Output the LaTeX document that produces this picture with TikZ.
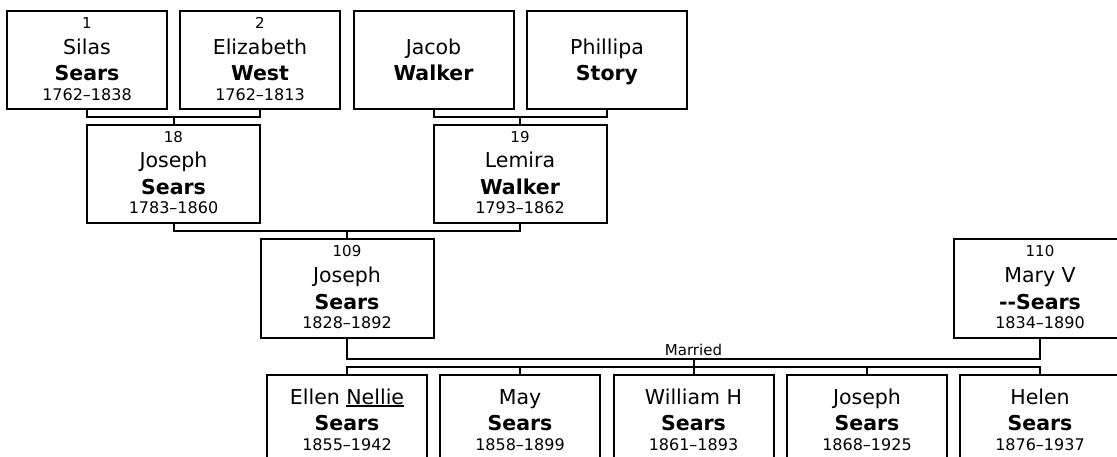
\documentclass[tikz,border=0pt]{standalone}
\usepackage{fontspec}
\setmainfont{DejaVu Sans}
\usetikzlibrary{calc}
\tikzset{
  pbox/.style={draw, line width=2pt, rectangle, inner sep=0pt, outer sep=0pt, minimum height=98pt, anchor=north},
  link/.style={draw, line width=2pt},
  numtxt/.style={anchor=base, inner sep=0pt, font=\fontsize{15}{17}\selectfont},
  nametxt/.style={anchor=base, inner sep=0pt, font=\fontsize{20.5}{24}\selectfont},
  surtxt/.style={anchor=base, inner sep=0pt, font=\fontsize{20.5}{24}\selectfont\bfseries},
  datetxt/.style={anchor=base, inner sep=0pt, font=\fontsize{16}{18}\selectfont},
  marrtxt/.style={anchor=base, inner sep=0pt, font=\fontsize{15}{17}\selectfont},
}
\newcommand\ulname[1]{\setbox0\hbox{#1}\rlap{\rule[-2.6pt]{\wd0}{1.6pt}}\box0}
% id, cx, top, width, number, first, last, dates
\newcommand\person[8]{%
  \node[pbox, minimum width=#4pt] (#1) at (#2,#3) {};
  \node[numtxt] (#1-n) at (#2,#3+17.2) {#5};
  \node[nametxt] (#1-f) at (#2,#3+43) {#6};
  \node[surtxt] (#1-l) at (#2,#3+69.5) {#7};
  \node[datetxt] (#1-d) at (#2,#3+89) {#8};
}
% id, cx, top, width, first, last
\newcommand\personb[6]{%
  \node[pbox, minimum width=#4pt] (#1) at (#2,#3) {};
  \node[nametxt] (#1-f) at (#2,#3+43) {#5};
  \node[surtxt] (#1-l) at (#2,#3+69.5) {#6};
}
% id, cx, top, first, last, dates
\newcommand\kid[6]{%
  \node[pbox, minimum width=160pt] (#1) at (#2,#3) {};
  \node[nametxt] (#1-f) at (#2,#3+29) {#4};
  \node[surtxt] (#1-l) at (#2,#3+55.5) {#5};
  \node[datetxt] (#1-d) at (#2,#3+75.5) {#6};
}
\begin{document}
\begin{tikzpicture}[x=1pt,y=-1pt]
\useasboundingbox (0,0) rectangle (1117,457);
\fill[white] (0,0) rectangle (1117,457);
\clip (0,0) rectangle (1117,457);

% generation 1
\person{p1}{87}{11.5}{160}{1}{Silas}{Sears}{1762–1838}
\person{p2}{260}{11.5}{160}{2}{Elizabeth}{West}{1762–1813}
\personb{p3}{433.5}{11.5}{160}{Jacob}{Walker}
\personb{p4}{607}{11.5}{160}{Phillipa}{Story}

% generation 2
\person{p18}{173.5}{125}{173}{18}{Joseph}{Sears}{1783–1860}
\person{p19}{520}{125}{173}{19}{Lemira}{Walker}{1793–1862}

% generation 3
\person{p109}{347}{239.5}{173}{109}{Joseph}{Sears}{1828–1892}
\person{p110}{1040}{239.5}{173}{110}{Mary V}{-\kern0pt-Sears}{1834–1890}

% children
\kid{k1}{347}{375}{Ellen \ulname{Nellie}}{Sears}{1855–1942}
\kid{k2}{520}{375}{May}{Sears}{1858–1899}
\kid{k3}{693.5}{375}{William H}{Sears}{1861–1893}
\kid{k4}{867}{375}{Joseph}{Sears}{1868–1925}
\kid{k5}{1040}{375}{Helen}{Sears}{1876–1937}

% connectors
\coordinate (j1) at (173.5,117.5);
\coordinate (j2) at (520,117.5);
\coordinate (j3) at (347,231.5);
\coordinate (j4) at (693.5,358.5);
\coordinate (j5) at (693.5,367);

\draw[link] (p1.south) |- (j1) -| (p2.south);
\draw[link] (j1) -- (p18.north);
\draw[link] (p3.south) |- (j2) -| (p4.south);
\draw[link] (j2) -- (p19.north);
\draw[link] (p18.south) |- (j3) -| (p19.south);
\draw[link] (j3) -- (p109.north);
\draw[link] (p109.south) |- (j4) -| (p110.south);
\node[marrtxt] (marr) at (693.5,355) {Married};
\draw[link] (j4) -- (j5);
\draw[link] (k1.north) |- (j5) -| (k5.north);
\draw[link] (k2.north) -- (k2.north |- j5);
\draw[link] (k3.north) -- (k3.north |- j5);
\draw[link] (k4.north) -- (k4.north |- j5);
\end{tikzpicture}
\end{document}
